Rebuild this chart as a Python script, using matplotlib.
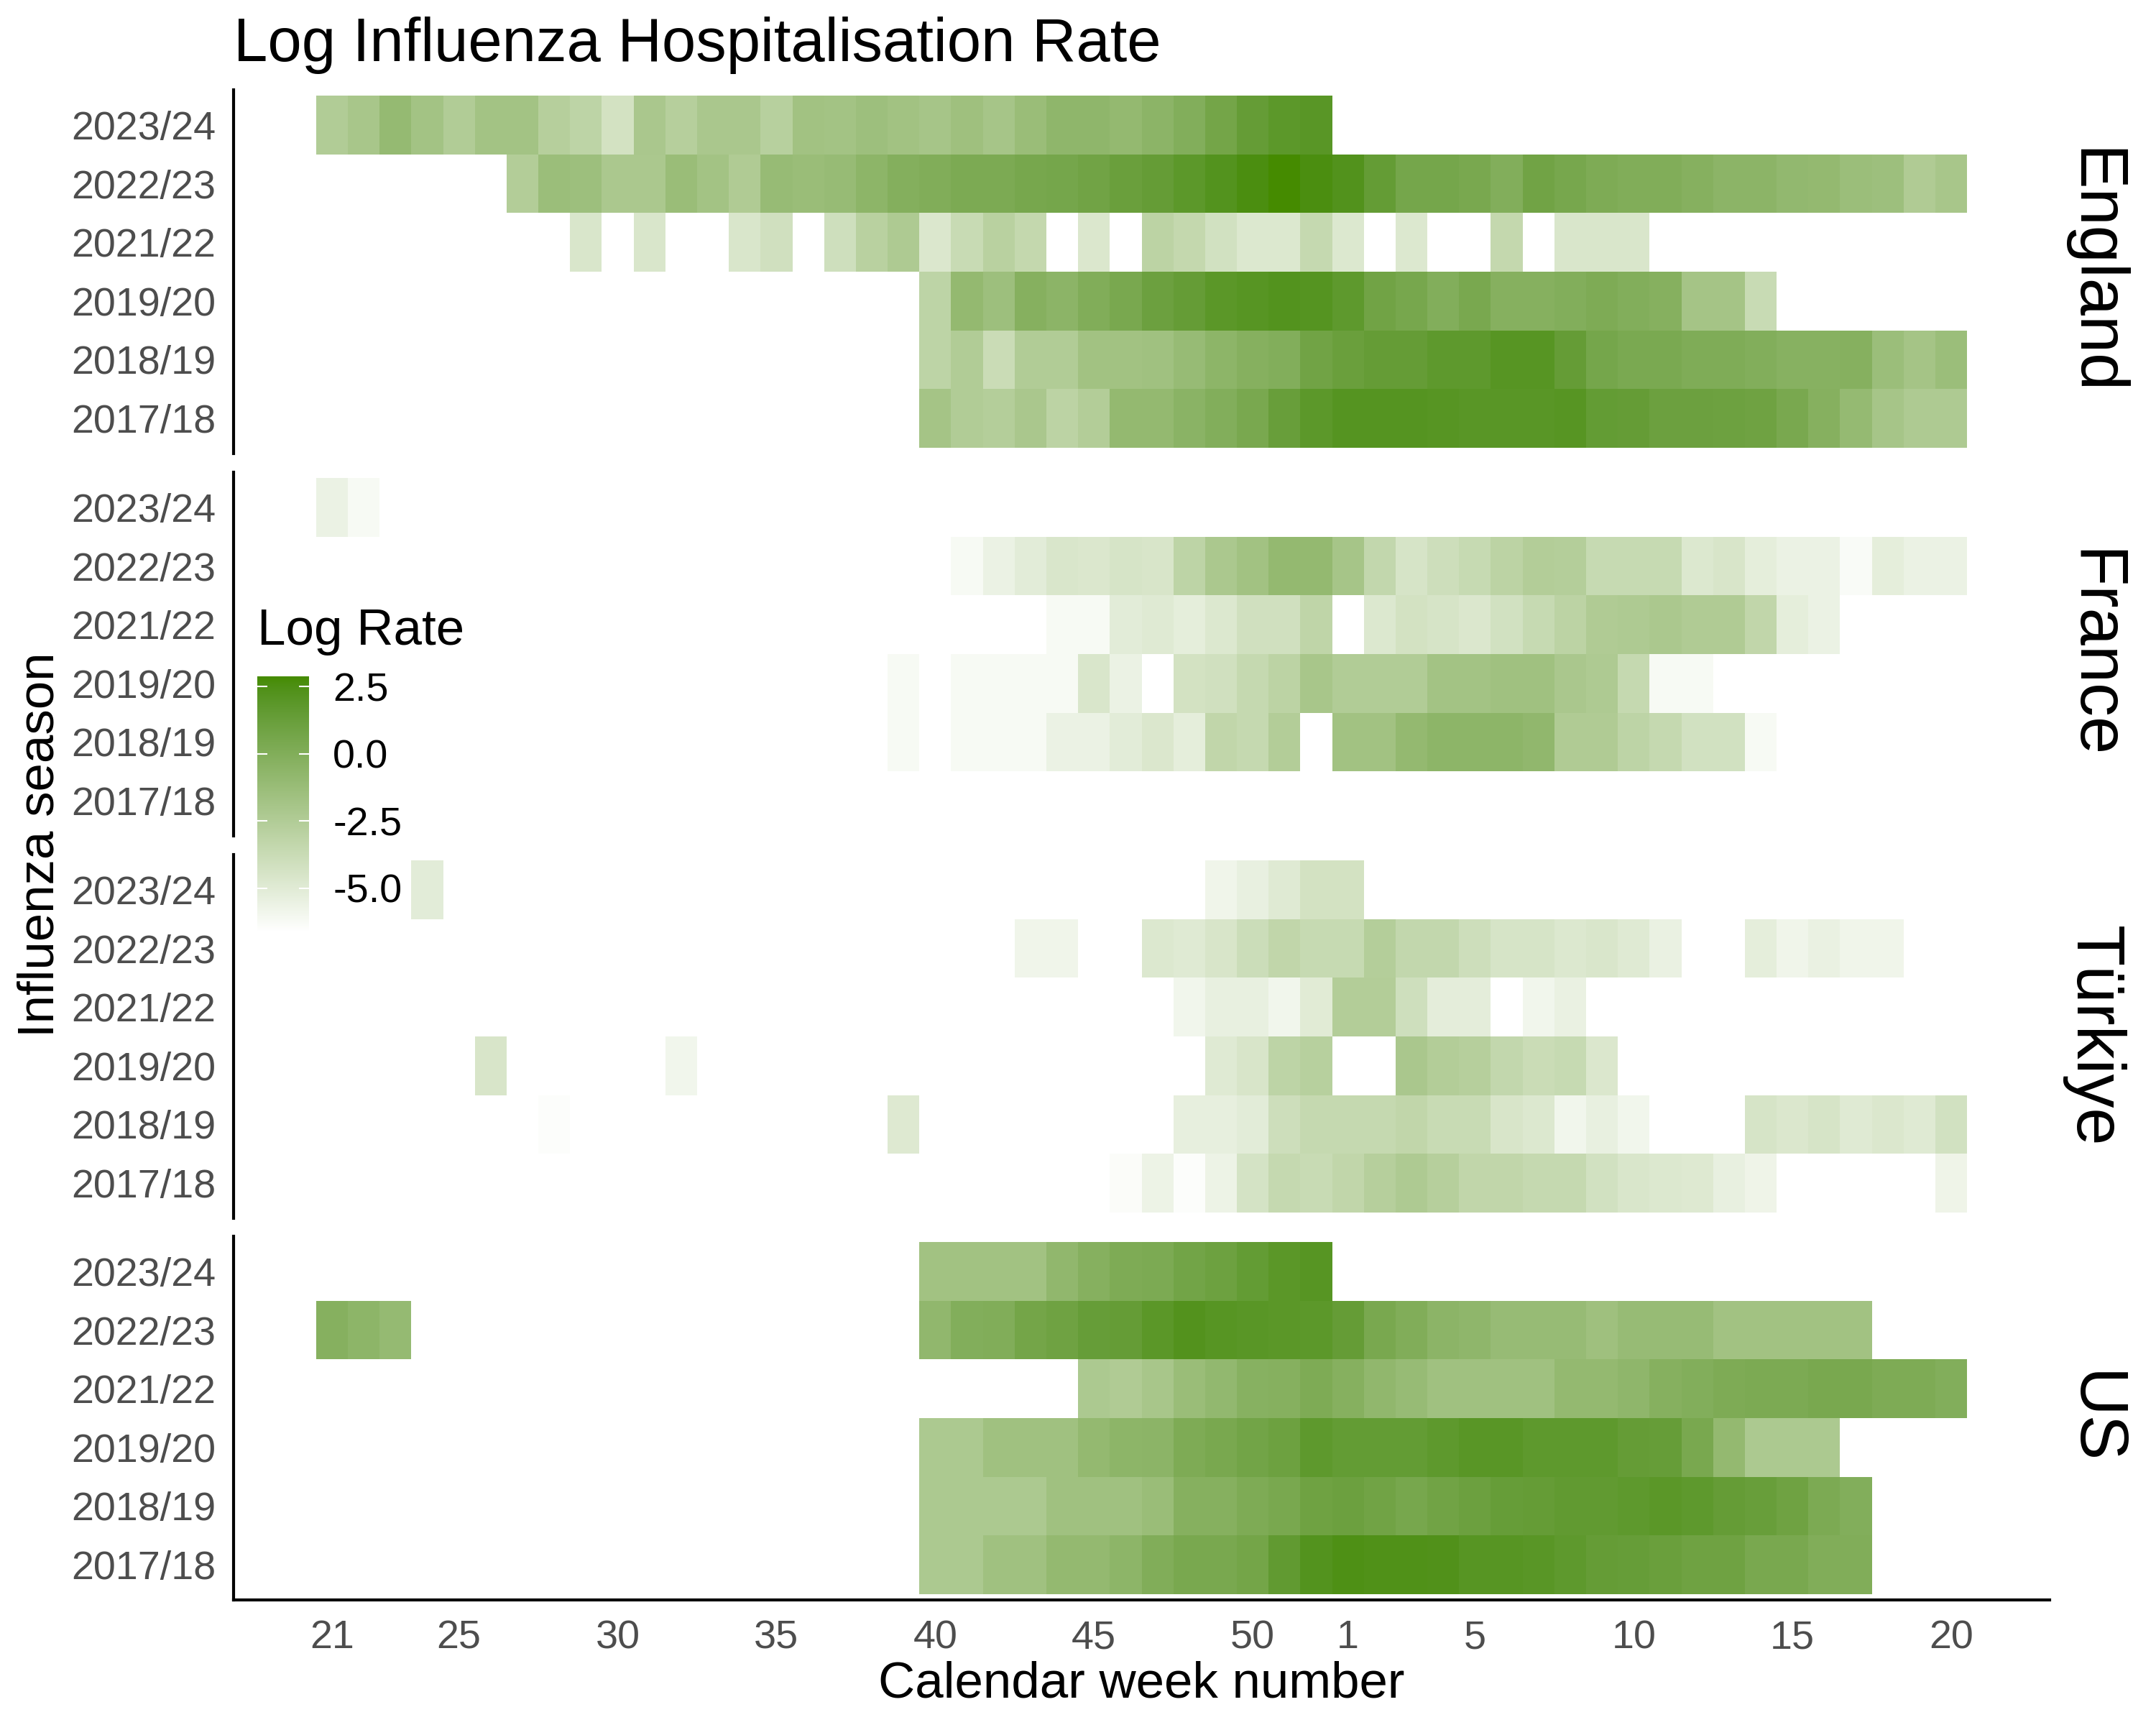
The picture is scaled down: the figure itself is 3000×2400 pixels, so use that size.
import numpy as np
import matplotlib
matplotlib.use("Agg")
import matplotlib.pyplot as plt
from matplotlib.colors import ListedColormap, Normalize
from matplotlib.cm import ScalarMappable

plt.rcParams["font.family"] = ["Liberation Sans", "DejaVu Sans"]
plt.rcParams["axes.unicode_minus"] = False

# ---------------------------------------------------------------- data
WEEKS = [21, 22, 23, 24, 25, 26, 27, 28, 29, 30, 31, 32, 33, 34, 35, 36,
         37, 38, 39, 40, 41, 42, 43, 44, 45, 46, 47, 48, 49, 50, 51, 52,
         1, 2, 3, 4, 5, 6, 7, 8, 9, 10, 11, 12, 13, 14, 15, 16, 17, 18, 19, 20]
SEASONS = ["2017/18", "2018/19", "2019/20", "2021/22", "2022/23", "2023/24"]
COUNTRIES = ["England", "France", "Türkiye", "US"]
WEEK_TICKS = [21, 25, 30, 35, 40, 45, 50, 1, 5, 10, 15, 20]
LEGEND_BREAKS = [2.5, 0.0, -2.5, -5.0]
LEGEND_LABELS = ["2.5", "0.0", "-2.5", "-5.0"]
RATE_LIMITS = (-6.63, 2.88)
LOW_COLOUR = "#FFFFFF"
HIGH_COLOUR = "#458B00"

# each season: list of (first calendar week, consecutive weekly log rates); None = no data
ENGLAND_2023_24 = [(21, [-2.48, -2.00, -1.02, -1.75, -2.48, -1.75, -1.75, -2.73, -3.13, -4.27,
                         -2.08, -2.73, -2.08, -2.08, -2.81, -1.67, -1.75, -1.43, -1.67, -1.91,
                         -1.51, -1.91, -1.26, -0.70, -0.70, -0.94, -0.53, -0.04, 0.69, 1.42,
                         1.83, 1.99])]
ENGLAND_2022_23 = [(27, [-2.57, -1.35, -1.43, -2.16, -2.16, -1.26, -1.75, -2.40, -1.10, -1.26,
                         -1.10, -0.61, -0.13, 0.04, 0.28, 0.28, 0.52, 0.61, 0.85, 1.18,
                         1.42, 1.83, 2.23, 2.60, 2.88, 2.60, 2.30, 1.45, 0.61, 0.61,
                         0.44, -0.04, 0.85, 0.52, 0.20, 0.04, 0.04, -0.21, -0.53, -0.53,
                         -0.86, -0.94, -1.35, -1.43, -2.40, -2.00])]
ENGLAND_2021_22 = [(29, [-4.60]), (31, [-4.60]), (34, [-4.60, -4.11]),
                   (37, [-4.03, -2.89, -2.32, -4.68, -3.70, -2.89, -3.46]), (45, [-4.68]),
                   (47, [-3.05, -3.46, -4.19, -4.76, -4.76, -3.54, -4.76]), (3, [-4.76]),
                   (6, [-3.46]), (8, [-4.60, -4.60, -4.60])]
ENGLAND_2019_20 = [(40, [-3.13, -0.94, -1.43, -0.21, -0.53, 0.04, 0.44, 1.09, 1.42, 1.91,
                         2.07, 2.23, 2.15, 1.74, 0.85, 0.52, -0.04, 0.44, -0.21, -0.21,
                         -0.04, 0.20, -0.04, -0.21, -1.83, -1.83, -3.70])]
ENGLAND_2018_19 = [(40, [-3.13, -2.48, -3.78, -2.48, -2.48, -1.67, -1.67, -1.59, -1.10, -0.61,
                         -0.21, -0.04, 0.85, 1.18, 1.42, 1.42, 1.74, 1.74, 2.07, 2.07,
                         1.42, 0.61, 0.36, 0.36, 0.12, 0.12, -0.04, -0.29, -0.29, -0.21,
                         -1.35, -1.83, -1.35])]
ENGLAND_2017_18 = [(40, [-1.83, -2.48, -2.65, -2.08, -3.05, -2.57, -0.94, -0.94, -0.45, -0.04,
                         0.44, 1.26, 1.83, 2.15, 2.15, 2.15, 2.07, 1.99, 1.99, 1.99,
                         2.07, 1.50, 1.42, 1.09, 1.09, 1.01, 0.93, 0.44, -0.21, -1.02,
                         -1.91, -2.32, -2.32])]

FRANCE_2023_24 = [(21, [-5.57, -6.22])]
FRANCE_2022_23 = [(41, [-6.22, -5.57, -5.09, -4.60, -4.68, -4.43, -4.52, -3.13, -2.16, -1.67,
                        -0.94, -0.94, -1.91, -3.38, -4.43, -3.95, -3.62, -3.05, -2.57, -2.65,
                        -3.62, -3.62, -3.62, -4.76, -4.52, -5.25, -5.57, -5.57, -6.30, -5.25,
                        -5.57, -5.57])]
FRANCE_2021_22 = [(44, [-6.22, -6.22, -5.09, -4.92, -5.25, -4.76, -4.11, -4.11, -3.22]),
                  (2, [-4.76, -4.27, -4.43, -4.68, -4.19, -3.62, -3.05, -2.40, -2.32, -2.16,
                       -2.40, -2.40, -3.30, -5.25, -5.57])]
FRANCE_2019_20 = [(39, [-6.22]), (41, [-6.22, -6.22, -6.22, -6.22, -4.60, -5.57]),
                  (48, [-4.27, -4.11, -3.54, -3.05, -2.00, -2.48, -2.48, -2.48, -1.75, -1.75,
                        -1.59, -1.59, -2.08, -2.32, -3.54, -6.22, -6.22])]
FRANCE_2018_19 = [(39, [-6.22]),
                  (41, [-6.22, -6.22, -6.22, -5.57, -5.57, -5.09, -4.68, -5.25, -3.30, -3.54,
                        -2.57]),
                  (1, [-1.67, -1.67, -0.94, -0.61, -0.61, -0.61, -0.78, -2.40, -2.40, -3.13,
                       -3.54, -4.19, -4.19, -6.22])]
FRANCE_2017_18 = []

TURKIYE_2023_24 = [(24, [-5.09]), (49, [-5.82, -5.41, -4.92, -4.27, -4.27])]
TURKIYE_2022_23 = [(43, [-5.82, -5.82]),
                   (47, [-4.76, -4.92, -4.52, -3.87, -3.30, -3.62, -3.62, -2.65, -3.38, -3.38,
                         -3.95, -4.43, -4.43, -4.76, -4.60, -4.92, -5.49]),
                   (14, [-5.25, -5.82, -5.49, -5.82, -5.82])]
TURKIYE_2021_22 = [(48, [-5.90, -5.41, -5.41, -5.90, -5.00, -2.57, -2.57, -4.03, -5.17, -5.17]),
                   (7, [-5.90, -5.49])]
TURKIYE_2019_20 = [(26, [-4.52]), (32, [-5.90]), (49, [-4.92, -4.52, -3.13, -2.81]),
                   (3, [-2.08, -2.57, -2.73, -3.38, -3.78, -3.62, -4.68])]
TURKIYE_2018_19 = [(28, [-6.45]), (39, [-4.84]),
                   (48, [-5.33, -5.33, -5.09, -3.95, -3.54, -3.54, -3.54, -3.30, -3.70, -3.70,
                         -4.52, -4.76, -5.90, -5.41, -5.90]),
                   (14, [-4.43, -4.68, -4.43, -4.92, -4.68, -4.92, -4.19])]
TURKIYE_2017_18 = [(46, [-6.39, -5.65, -6.47, -5.65, -4.35, -3.54, -3.70, -3.30, -2.73, -2.32,
                         -2.73, -3.30, -3.30, -3.54, -3.54, -4.19, -4.60, -4.76, -4.84, -5.41,
                         -5.74, -6.60, -6.60, -6.60, -6.60, -6.60, -5.74])]

US_2023_24 = [(40, [-1.67, -1.67, -1.67, -1.67, -0.78, -0.21, 0.20, 0.28, 0.77, 1.01,
                    1.50, 1.91, 2.07])]
US_2022_23 = [(21, [-0.21, -0.61, -1.02]),
              (40, [-0.78, -0.04, 0.04, 0.69, 0.93, 1.34, 1.42, 1.91, 2.25, 2.07,
                    1.99, 1.91, 1.83, 1.42, 0.44, 0.04, -0.53, -0.70, -1.10, -1.10,
                    -1.10, -1.51, -1.10, -1.10, -1.10, -1.67, -1.67, -1.67, -1.67, -1.67])]
US_2021_22 = [(45, [-2.24, -2.40, -2.00, -1.26, -0.86, -0.29, -0.21, 0.20, -0.21, -0.78,
                    -1.10, -1.59, -1.59, -1.59, -1.59, -0.94, -0.94, -0.70, -0.21, -0.04,
                    0.20, 0.28, 0.28, 0.44, 0.44, 0.20, 0.20, -0.04])]
US_2019_20 = [(40, [-2.24, -2.24, -1.59, -1.59, -1.59, -0.94, -0.61, -0.53, 0.20, 0.44,
                    0.77, 1.01, 1.74, 1.50, 1.50, 1.50, 1.74, 1.99, 1.99, 1.74,
                    1.74, 1.74, 1.42, 1.34, 0.44, -0.94, -2.24, -2.24, -2.24])]
US_2018_19 = [(40, [-2.24, -2.24, -2.24, -2.24, -1.59, -1.59, -1.59, -1.26, -0.21, -0.21,
                    0.20, 0.44, 0.93, 1.09, 0.85, 0.52, 0.85, 1.09, 1.34, 1.42,
                    1.58, 1.58, 1.74, 1.91, 1.74, 1.42, 1.26, 0.93, 0.28, -0.04])]
US_2017_18 = [(40, [-2.24, -2.24, -1.59, -1.59, -0.94, -0.94, -0.61, 0.04, 0.44, 0.44,
                    0.69, 1.58, 2.23, 2.48, 2.40, 2.40, 2.35, 2.07, 2.07, 1.99,
                    1.74, 1.42, 1.34, 1.18, 0.93, 0.93, 0.44, 0.44, 0.04, 0.04])]

ENGLAND = [ENGLAND_2017_18, ENGLAND_2018_19, ENGLAND_2019_20, ENGLAND_2021_22, ENGLAND_2022_23, ENGLAND_2023_24]
FRANCE = [FRANCE_2017_18, FRANCE_2018_19, FRANCE_2019_20, FRANCE_2021_22, FRANCE_2022_23, FRANCE_2023_24]
TURKIYE = [TURKIYE_2017_18, TURKIYE_2018_19, TURKIYE_2019_20, TURKIYE_2021_22, TURKIYE_2022_23, TURKIYE_2023_24]
US = [US_2017_18, US_2018_19, US_2019_20, US_2021_22, US_2022_23, US_2023_24]
COUNTRY_ROWS = [ENGLAND, FRANCE, TURKIYE, US]


# ---------------------------------------------------------------- colour scale (Lab interpolation, as ggplot)
_M = np.array([[0.4124, 0.3576, 0.1805], [0.2126, 0.7152, 0.0722], [0.0193, 0.1192, 0.9505]])
_WP = np.array([0.95047, 1.0, 1.08883])


def _hex_to_rgb(h):
    h = h.lstrip("#")
    return np.array([int(h[i:i + 2], 16) / 255 for i in (0, 2, 4)])


def _rgb_to_lab(rgb):
    lin = np.where(rgb <= 0.04045, rgb / 12.92, ((rgb + 0.055) / 1.055) ** 2.4)
    xyz = _M @ lin / _WP
    d = 6 / 29
    f = np.where(xyz > d ** 3, np.cbrt(xyz), xyz / (3 * d * d) + 4 / 29)
    return np.array([116 * f[1] - 16, 500 * (f[0] - f[1]), 200 * (f[1] - f[2])])


def _lab_to_rgb(lab):
    L, a, b = lab
    fy = (L + 16) / 116
    f = np.array([fy + a / 500, fy, fy - b / 200])
    d = 6 / 29
    xyz = np.where(f > d, f ** 3, 3 * d * d * (f - 4 / 29)) * _WP
    lin = np.linalg.inv(_M) @ xyz
    lin = np.clip(lin, 0, 1)
    rgb = np.where(lin <= 0.0031308, 12.92 * lin, 1.055 * lin ** (1 / 2.4) - 0.055)
    return np.clip(rgb, 0, 1)


_lo = _rgb_to_lab(_hex_to_rgb(LOW_COLOUR))
_hi = _rgb_to_lab(_hex_to_rgb(HIGH_COLOUR))
cmap = ListedColormap([_lab_to_rgb(_lo + (_hi - _lo) * t) for t in np.linspace(0, 1, 512)])
norm = Normalize(vmin=RATE_LIMITS[0], vmax=RATE_LIMITS[1])


def build_grid(rows):
    grid = np.full((len(SEASONS), len(WEEKS)), np.nan)
    for s, segments in enumerate(rows):
        for start, vals in segments:
            i0 = WEEKS.index(start)
            for k, v in enumerate(vals):
                if v is not None:
                    grid[s, i0 + k] = v
    return grid


# ---------------------------------------------------------------- figure
W, H = 3000, 2400
fig = plt.figure(figsize=(10, 8), dpi=300)
fig.patch.set_facecolor("white")

LEFT, PW = 325, 2527
TOPS = [125, 657, 1189, 1720]
PH = 506
AXIS_GREY = "#4d4d4d"

x_edges = np.arange(len(WEEKS) + 1) - 0.5
y_edges = np.arange(len(SEASONS) + 1) - 0.5
tick_pos = [WEEKS.index(w) for w in WEEK_TICKS]

for k, (country, rows) in enumerate(zip(COUNTRIES, COUNTRY_ROWS)):
    top = TOPS[k]
    ax = fig.add_axes([LEFT / W, 1 - (top + PH) / H, PW / W, PH / H])
    grid = np.ma.masked_invalid(build_grid(rows))
    ax.pcolormesh(x_edges, y_edges, grid, cmap=cmap, norm=norm, shading="flat",
                  antialiased=False, linewidth=0, edgecolors="none")
    ax.set_xlim(-3.1, len(WEEKS) - 1 + 3.1)
    ax.set_ylim(-0.6, len(SEASONS) - 1 + 0.6)
    ax.set_facecolor("white")
    for sp in ("top", "right"):
        ax.spines[sp].set_visible(False)
    ax.spines["left"].set_linewidth(1.0)
    ax.spines["left"].set_color("black")
    last = (k == len(COUNTRIES) - 1)
    ax.spines["bottom"].set_visible(last)
    ax.spines["bottom"].set_linewidth(1.0)
    ax.set_yticks(range(len(SEASONS)))
    ax.set_yticklabels(SEASONS)
    ax.tick_params(axis="y", length=0, pad=6, labelsize=13.4, labelcolor=AXIS_GREY)
    ax.set_xticks(tick_pos)
    if last:
        ax.set_xticklabels([str(w) for w in WEEK_TICKS])
        ax.tick_params(axis="x", length=0, pad=6.5, labelsize=13.4, labelcolor=AXIS_GREY)
    else:
        ax.tick_params(axis="x", length=0, labelbottom=False)
    fig.text(2912 / W, 1 - (top + PH / 2) / H, country, rotation=-90,
             ha="center", va="center", fontsize=22.5, color="black")

# titles
fig.text(LEFT / W, 1 - 85 / H, "Log Influenza Hospitalisation Rate",
         ha="left", va="baseline", fontsize=20.4, color="black")
fig.text((LEFT + PW / 2) / W, 1 - 2362 / H, "Calendar week number",
         ha="center", va="baseline", fontsize=17, color="black")
fig.text(57 / W, 1 - 1175 / H, "Influenza season", rotation=90,
         ha="center", va="center", fontsize=17, color="black")

# legend (colour bar)
cax = fig.add_axes([358 / W, 1 - 1297 / H, 72 / W, 356 / H])
cb = fig.colorbar(ScalarMappable(norm=norm, cmap=cmap), cax=cax)
cb.outline.set_visible(False)
cb.set_ticks(LEGEND_BREAKS)
cb.set_ticklabels(LEGEND_LABELS)
cax.minorticks_off()
cax.tick_params(axis="y", which="major", direction="in", left=True, right=True,
                length=3.4, width=0.5, color="white", labelsize=13.4,
                labelcolor="black", pad=8)
fig.text(358 / W, 1 - 897 / H, "Log Rate", ha="left", va="baseline",
         fontsize=17, color="black")

fig.savefig("out.png", dpi=300, facecolor="white")
